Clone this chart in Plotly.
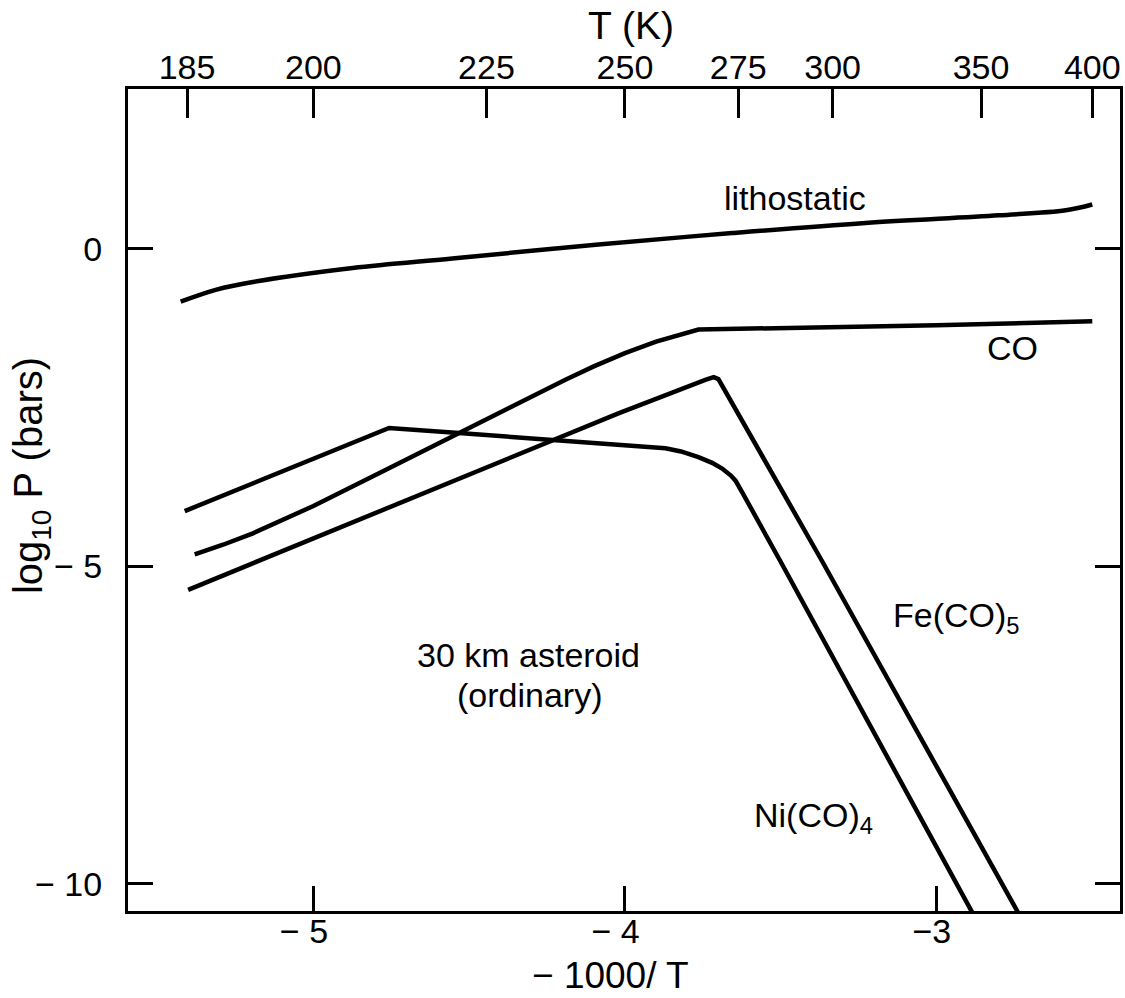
import plotly.graph_objects as go

# ---------------- data (x = -1000/T, y = log10 P in bars) ----------------
litho_x = [-5.426, -5.311, -5.194, -4.874, -4.554, -4.085, -3.656, -3.228, -2.800, -2.585, -2.500]
litho_y = [-0.83, -0.64, -0.52, -0.30, -0.15, 0.07, 0.25, 0.41, 0.53, 0.61, 0.70]

co_x = [-5.381, -5.290, -5.194, -5.000, -4.767, -4.533, -4.191, -4.100, -4.000, -3.900, -3.830,
        -3.764, -3.000, -2.500]
co_y = [-4.81, -4.66, -4.48, -4.05, -3.48, -2.90, -2.06, -1.85, -1.64, -1.46, -1.355,
        -1.27, -1.20, -1.14]

fe_x = [-5.402, -4.767, -4.234, -4.021, -3.740, -3.715, -3.700, -3.367, -2.733]
fe_y = [-5.37, -4.085, -3.02, -2.59, -2.06, -2.02, -2.05, -4.92, -10.50]

ni_x = [-5.413, -4.757, -4.533, -4.234, -4.021, -3.870, -3.820, -3.764, -3.720, -3.688, -3.660,
        -3.645, -3.624, -3.501, -2.880]
ni_y = [-4.13, -2.82, -2.90, -3.01, -3.09, -3.14, -3.19, -3.28, -3.37, -3.46, -3.57,
        -3.65, -3.83, -4.92, -10.50]

bottom_ticks = [-5, -4, -3]
bottom_text = ["\u2212 5\u00a0\u00a0", "\u2212 4\u00a0\u00a0", "\u22123\u00a0"]
y_ticks = [0, -5, -10]
y_text = ["0", "\u2212 5", "\u2212 10"]
temps_K = [185, 200, 225, 250, 275, 300, 350, 400]

X_RANGE = [-5.595, -2.411]
Y_RANGE = [-10.43, 2.52]

FONT = "Liberation Sans, Arial, sans-serif"
INK = "#000000"
LW = 4.5

fig = go.Figure()
fig.add_trace(go.Scatter(x=litho_x, y=litho_y, mode="lines",
                         line=dict(color=INK, width=LW, shape="spline", smoothing=1.0),
                         showlegend=False, hoverinfo="skip"))
for xs, ys in [(co_x, co_y), (fe_x, fe_y), (ni_x, ni_y)]:
    fig.add_trace(go.Scatter(x=xs, y=ys, mode="lines",
                             line=dict(color=INK, width=LW),
                             showlegend=False, hoverinfo="skip"))
# empty trace so the top temperature axis is instantiated
fig.add_trace(go.Scatter(x=[], y=[], xaxis="x2", yaxis="y", showlegend=False))

LBL = dict(family=FONT, size=34, color=INK)
fig.add_annotation(x=-3.688, y=0.80, text="lithostatic", showarrow=False, font=LBL,
                   xanchor="left", yanchor="middle")
fig.add_annotation(x=-2.757, y=-1.555, text="CO", showarrow=False, font=LBL,
                   xanchor="center", yanchor="middle")
fig.add_annotation(x=-4.675, y=-6.40, text="30 km asteroid", showarrow=False, font=LBL,
                   xanchor="left", yanchor="middle")
fig.add_annotation(x=-4.545, y=-7.02, text="(ordinary)", showarrow=False, font=LBL,
                   xanchor="left", yanchor="middle")
fig.add_annotation(x=-3.147, y=-5.80, text="Fe(CO)<sub>5</sub>", showarrow=False, font=LBL,
                   xanchor="left", yanchor="middle")
fig.add_annotation(x=-3.394, y=-8.95, text="Ni(CO)<sub>4</sub>", showarrow=False, font=LBL,
                   xanchor="center", yanchor="middle")

# axis titles
fig.add_annotation(xref="paper", yref="paper", x=0.507, y=1.077, text="T (K)",
                   showarrow=False, font=dict(family=FONT, size=39, color=INK),
                   xanchor="center", yanchor="middle")
fig.add_annotation(xref="paper", yref="paper", x=0.486, y=-0.0785,
                   text="\u2212 1000/ T", showarrow=False,
                   font=dict(family=FONT, size=37, color=INK),
                   xanchor="center", yanchor="middle")
fig.add_annotation(xref="paper", yref="paper", x=-0.097, y=0.53,
                   text="log<sub>10</sub> P (bars)", textangle=-90, showarrow=False,
                   font=dict(family=FONT, size=40, color=INK),
                   xanchor="center", yanchor="middle")

fig.update_layout(
    width=1125, height=998,
    margin=dict(l=128, r=2, t=89, b=87),
    paper_bgcolor="white", plot_bgcolor="white",
    font=dict(family=FONT, color=INK),
    showlegend=False,
    xaxis=dict(range=X_RANGE, tickmode="array", tickvals=bottom_ticks, ticktext=bottom_text,
               ticks="inside", ticklen=25, tickwidth=3, tickcolor=INK,
               showline=True, linewidth=3, linecolor=INK, mirror=True,
               showgrid=False, zeroline=False, ticklabelstandoff=-12,
               tickfont=dict(family=FONT, size=34, color=INK)),
    xaxis2=dict(range=X_RANGE, overlaying="x", side="top", anchor="y",
                tickmode="array", tickvals=[-1000.0 / t for t in temps_K],
                ticktext=[str(t) for t in temps_K],
                ticks="inside", ticklen=29, tickwidth=3, tickcolor=INK,
                showline=False, showgrid=False, zeroline=False, ticklabelstandoff=2,
                tickfont=dict(family=FONT, size=34, color=INK)),
    yaxis=dict(range=Y_RANGE, tickmode="array", tickvals=y_ticks, ticktext=y_text,
               ticks="inside", ticklen=25, tickwidth=3, tickcolor=INK,
               showline=True, linewidth=3, linecolor=INK, mirror="ticks",
               showgrid=False, zeroline=False, ticklabelstandoff=16,
               tickfont=dict(family=FONT, size=34, color=INK)),
)

fig.write_html("out.html")
